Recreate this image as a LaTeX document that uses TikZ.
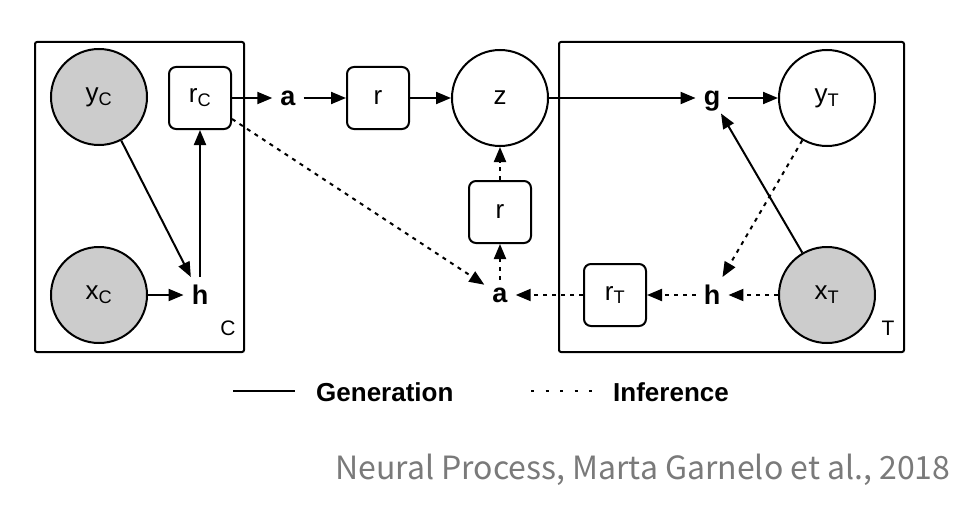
\documentclass[tikz,border=0pt]{standalone}
\usepackage{fontspec}
\setmainfont{Liberation Sans}
\newfontfamily\capfont{Noto Sans CJK KR}
\usetikzlibrary{arrows.meta}

\begin{document}
\begin{tikzpicture}[x=1pt, y=-1pt,
  font=\fontsize{26}{30}\selectfont,
  var/.style={circle, draw, line width=2pt, minimum size=96pt, inner sep=0pt},
  obs/.style={var, fill=black!20},
  fn/.style={draw, rounded corners=7pt, line width=2pt, minimum size=62pt, inner sep=0pt},
  lbl/.style={font=\fontsize{27}{30}\selectfont\bfseries, inner sep=8pt, text depth=0pt},
  gen/.style={->, line width=2pt},
  infr/.style={->, line width=2pt, dash pattern=on 4pt off 5pt},
  >={Triangle[length=15pt, width=12pt]}]

\useasboundingbox (0,0) rectangle (980,527);

% plates
\begin{scope}[line width=2pt, rounded corners=2pt]
\draw (35,42) rectangle (244,352);
\draw (559,42) rectangle (904,352);
\end{scope}
\node[font=\fontsize{21}{24}\selectfont] (plC) at (228,328) {C};
\node[font=\fontsize{21}{24}\selectfont] (plT) at (888,328) {T};

% context side
\node[obs] (yC) at (99,97) {y\textsubscript{C}};
\node[obs] (xC) at (99,295) {x\textsubscript{C}};
\node[fn] (rC) at (200,98) {r\textsubscript{C}};
\node[lbl] (hC) at (200,295) {h};

% latent path
\node[lbl] (aC) at (288,98) {a};
\node[fn] (r1) at (378,98) {r};
\node[var] (z) at (500,98) {z};
\node[fn] (r2) at (500,212) {r};
\node[lbl] (aT) at (500,295) {a};

% target side
\node[fn] (rT) at (615,295) {r\textsubscript{T}};
\node[lbl] (hT) at (712,295) {h};
\node[obs] (xT) at (827,295) {x\textsubscript{T}};
\node[lbl] (g) at (712,98) {g};
\node[var] (yT) at (827,98) {y\textsubscript{T}};

% generation
\begin{scope}[gen]
\draw (rC) -- (aC);
\draw (aC) -- (r1);
\draw (r1) -- (z);
\draw (z) -- (g);
\draw (g) -- (yT);
\draw (yC) -- (hC);
\draw (xC) -- (hC);
\draw (hC) -- (rC);
\draw (xT) -- (g);
\end{scope}

% inference
\begin{scope}[infr]
\draw (rC) -- (aT);
\draw (aT) -- (r2);
\draw (r2) -- (z);
\draw (rT) -- (aT);
\draw (hT) -- (rT);
\draw (xT) -- (hT);
\draw (yT) -- (hT);
\end{scope}

% legend
\coordinate (genA) at (233,391);
\coordinate (genB) at (295,391);
\draw[line width=2.5pt] (genA) -- (genB);
\node[anchor=west, inner sep=0pt, font=\fontsize{26}{30}\selectfont\bfseries] (genL) at (316,392) {Generation};
\coordinate (infA) at (531,391);
\coordinate (infB) at (596,391);
\draw[line width=2.5pt, dash pattern=on 3pt off 11.5pt] (infA) -- (infB);
\node[anchor=west, inner sep=0pt, font=\fontsize{26}{30}\selectfont\bfseries] (infL) at (613,392) {Inference};

\node[anchor=base west, inner sep=0pt, text=black!52, font=\capfont\fontsize{32}{38}\selectfont] (cap) at (335,479) {Neural Process, Marta Garnelo et al., 2018};

\end{tikzpicture}
\end{document}
